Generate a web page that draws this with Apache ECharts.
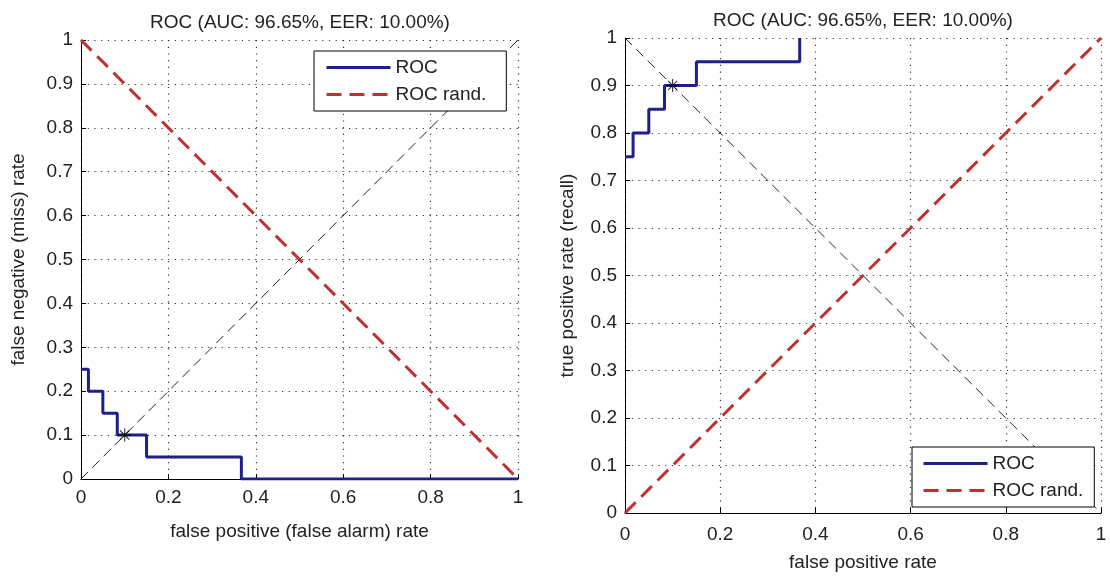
<!DOCTYPE html>
<html>
<head>
<meta charset="utf-8">
<script src="https://cdn.jsdelivr.net/npm/echarts@6/dist/echarts.min.js"></script>
<style>
  html, body { margin: 0; padding: 0; background: #fff; }
  #chart { width: 1110px; height: 577px; }
</style>
</head>
<body>
<div id="chart"></div>
<script>
// ROC / DET values for a 20-positive detector evaluation
const titleText = 'ROC (AUC: 96.65%, EER: 10.00%)';
const fprSteps = [0, 0.017, 0.05, 0.083, 0.15, 0.367, 1];
const fnrSteps = [0.25, 0.2, 0.15, 0.1, 0.05, 0, 0];
const tprX = [0, 0.017, 0.05, 0.083, 0.15, 0.367];
const tprSteps = [0.75, 0.8, 0.85, 0.9, 0.95, 1];
const eerPoint = [0.1, 0.1];
const eerPointTpr = [0.1, 0.9];
const chanceLeft = [[0, 1], [1, 0]];
const chanceRight = [[0, 0], [1, 1]];
const diagLeft = [[0, 0], [1, 1]];
const diagRight = [[0, 1], [1, 0]];
const xTicks = [0, 0.2, 0.4, 0.6, 0.8, 1];
const yTicks = [0, 0.1, 0.2, 0.3, 0.4, 0.5, 0.6, 0.7, 0.8, 0.9, 1];
const legendNames = ['ROC', 'ROC rand.'];

const FONT = '"Liberation Sans", Arial, Helvetica, sans-serif';
const FS = 19;
const TXT = '#222';
const BLUE = '#1f1f8a';
const RED = '#bb322f';

const zip = (xs, ys) => xs.map((x, i) => [x, ys[i]]);

const asterisk = 'path://M-6,-0.5L6,-0.5L6,0.5L-6,0.5Z' +
  'M-0.5,-6L0.5,-6L0.5,6L-0.5,6Z' +
  'M-4.6,-3.9L3.9,4.6L4.6,3.9L-3.9,-4.6Z' +
  'M-4.6,3.9L3.9,-4.6L4.6,-3.9L-3.9,4.6Z';

const dotted = { color: '#333', width: 1.2, type: [1.2, 5.5] };

function xAxisFor(gridIndex, name, nameGap, labelMargin) {
  return {
    type: 'value', gridIndex, min: 0, max: 1, interval: xTicks[1] - xTicks[0],
    name, nameLocation: 'middle', nameGap,
    nameTextStyle: { fontSize: FS, color: TXT, fontFamily: FONT },
    axisLine: { show: true, onZero: false, lineStyle: { color: '#000', width: 1 } },
    axisTick: { show: true, inside: true, length: 5, lineStyle: { color: '#000' } },
    axisLabel: { fontSize: FS, color: TXT, fontFamily: FONT, margin: labelMargin },
    splitLine: { show: true, lineStyle: dotted }
  };
}
function yAxisFor(gridIndex, name, nameGap) {
  return {
    type: 'value', gridIndex, min: 0, max: 1, interval: yTicks[1] - yTicks[0],
    name, nameLocation: 'middle', nameGap,
    nameTextStyle: { fontSize: FS, color: TXT, fontFamily: FONT },
    axisLine: { show: true, onZero: false, lineStyle: { color: '#000', width: 1 } },
    axisTick: { show: true, inside: true, length: 5, lineStyle: { color: '#000' } },
    axisLabel: { fontSize: FS, color: TXT, fontFamily: FONT, margin: 8 },
    splitLine: { show: true, lineStyle: dotted }
  };
}
function legendFor(left, top, padding) {
  return {
    data: legendNames, orient: 'vertical', left, top,
    itemWidth: 64, itemHeight: 14, itemGap: 8, padding,
    borderColor: '#000', borderWidth: 1, backgroundColor: '#fff',
    selectedMode: false,
    itemStyle: { opacity: 0 },
    lineStyle: { width: 3 },
    textStyle: { fontSize: FS, color: TXT, fontFamily: FONT }
  };
}

const chart = echarts.init(document.getElementById('chart'), null, { renderer: 'canvas' });
chart.setOption({
  backgroundColor: '#fff',
  animation: false,
  title: [
    { text: titleText, left: 295, top: 8, textAlign: 'center',
      textStyle: { fontSize: FS, fontWeight: 'normal', color: TXT, fontFamily: FONT } },
    { text: titleText, left: 858, top: 6, textAlign: 'center',
      textStyle: { fontSize: FS, fontWeight: 'normal', color: TXT, fontFamily: FONT } }
  ],
  legend: [
    legendFor(314, 51, [7, 20, 7, 11]),
    legendFor(912, 447, [7, 11, 7, 10])
  ],
  grid: [
    { left: 81, top: 40, width: 437, height: 439 },
    { left: 625, top: 38, width: 476, height: 479 }
  ],
  xAxis: [
    xAxisFor(0, 'false positive (false alarm) rate', 43, 9),
    xAxisFor(1, 'false positive rate', 40, 12)
  ],
  yAxis: [
    yAxisFor(0, 'false negative (miss) rate', 53),
    yAxisFor(1, 'true positive rate (recall)', 48)
  ],
  series: [
    // left panel: miss rate vs false alarm rate
    { type: 'line', xAxisIndex: 0, yAxisIndex: 0, data: diagLeft, symbol: 'none', silent: true,
      lineStyle: { color: '#222', width: 1, type: [10, 6] }, z: 2 },
    { name: 'ROC rand.', type: 'line', xAxisIndex: 0, yAxisIndex: 0, data: chanceLeft, symbol: 'none',
      lineStyle: { color: RED, width: 3, type: [15, 8] }, itemStyle: { color: RED }, z: 3 },
    { name: 'ROC', type: 'line', xAxisIndex: 0, yAxisIndex: 0, data: zip(fprSteps, fnrSteps),
      step: 'end', symbol: 'none', lineStyle: { color: BLUE, width: 3 }, itemStyle: { color: BLUE }, z: 4 },
    { type: 'scatter', xAxisIndex: 0, yAxisIndex: 0, data: [eerPoint], symbol: asterisk, symbolSize: 13,
      itemStyle: { color: '#000' }, silent: true, z: 5 },
    // right panel: recall vs false positive rate
    { type: 'line', xAxisIndex: 1, yAxisIndex: 1, data: diagRight, symbol: 'none', silent: true,
      lineStyle: { color: '#222', width: 1, type: [10, 6] }, z: 2 },
    { name: 'ROC rand.', type: 'line', xAxisIndex: 1, yAxisIndex: 1, data: chanceRight, symbol: 'none',
      lineStyle: { color: RED, width: 3, type: [15, 8] }, itemStyle: { color: RED }, z: 3 },
    { name: 'ROC', type: 'line', xAxisIndex: 1, yAxisIndex: 1, data: zip(tprX, tprSteps),
      step: 'end', symbol: 'none', lineStyle: { color: BLUE, width: 3 }, itemStyle: { color: BLUE }, z: 4 },
    { type: 'scatter', xAxisIndex: 1, yAxisIndex: 1, data: [eerPointTpr], symbol: asterisk, symbolSize: 13,
      itemStyle: { color: '#000' }, silent: true, z: 5 }
  ]
});
</script>
</body>
</html>
